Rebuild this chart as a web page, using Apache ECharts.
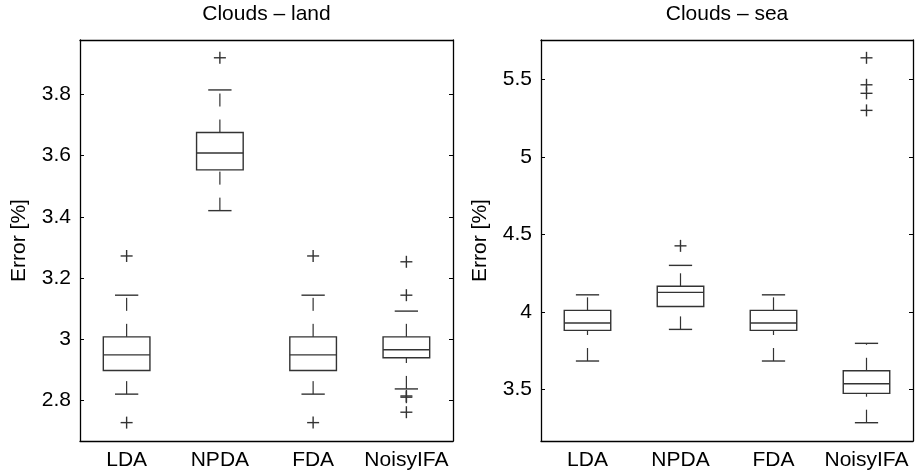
<!DOCTYPE html>
<html>
<head>
<meta charset="utf-8">
<script src="https://cdn.jsdelivr.net/npm/echarts@6/dist/echarts.min.js"></script>
<style>
  html, body { margin: 0; background: #fff; }
  #chart { width: 915px; height: 474px; }
</style>
</head>
<body>
<div id="chart"></div>
<script>
var methods = ['LDA', 'NPDA', 'FDA', 'NoisyIFA'];

// each box: [lower whisker, q1, median, q3, upper whisker]
var landBoxes = [
  [2.821, 2.898, 2.949, 3.008, 3.144],
  [3.420, 3.553, 3.608, 3.675, 3.814],
  [2.821, 2.898, 2.949, 3.008, 3.144],
  [2.838, 2.940, 2.966, 3.008, 3.092]
];
// outliers: [method index, value]
var landOutliers = [
  [0, 3.272], [0, 2.728],
  [1, 3.919],
  [2, 3.272], [2, 2.728],
  [3, 3.253], [3, 3.144], [3, 2.815], [3, 2.811], [3, 2.762]
];
var seaBoxes = [
  [3.683, 3.881, 3.928, 4.010, 4.110],
  [3.887, 4.035, 4.126, 4.165, 4.300],
  [3.683, 3.881, 3.928, 4.010, 4.110],
  [3.285, 3.474, 3.536, 3.620, 3.797]
];
var seaOutliers = [
  [1, 4.426],
  [3, 5.639], [3, 5.465], [3, 5.410], [3, 5.300]
];
var landTicks = [2.8, 3.0, 3.2, 3.4, 3.6, 3.8];
var seaTicks = [3.5, 4, 4.5, 5, 5.5];
var landRange = [2.668, 3.977];
var seaRange = [3.167, 5.754];

var FONT = '"Liberation Sans", Arial, sans-serif';
var FS = 21;
var INK = '#333';

function renderBox(params, api) {
  var i = api.value(0);
  var lo = api.coord([i, api.value(1)]);
  var q1 = api.coord([i, api.value(2)]);
  var md = api.coord([i, api.value(3)]);
  var q3 = api.coord([i, api.value(4)]);
  var hi = api.coord([i, api.value(5)]);
  var band = api.size([1, 0])[0];
  var bw = band * 0.25, cw = band * 0.125;
  var cx = lo[0];
  var dash = { stroke: INK, lineWidth: 1.2, lineDash: [13, 13], fill: null };
  var solid = { stroke: INK, lineWidth: 1.4, fill: null };
  return {
    type: 'group',
    children: [
      // whiskers drawn bottom -> top like matlab
      { type: 'line', shape: { x1: cx, y1: q3[1], x2: cx, y2: hi[1] }, style: dash },
      { type: 'line', shape: { x1: cx, y1: lo[1], x2: cx, y2: q1[1] }, style: dash },
      { type: 'line', shape: { x1: cx - cw, y1: hi[1], x2: cx + cw, y2: hi[1] }, style: solid },
      { type: 'line', shape: { x1: cx - cw, y1: lo[1], x2: cx + cw, y2: lo[1] }, style: solid },
      { type: 'rect', shape: { x: cx - bw, y: q3[1], width: 2 * bw, height: q1[1] - q3[1] }, style: solid },
      { type: 'line', shape: { x1: cx - bw, y1: md[1], x2: cx + bw, y2: md[1] }, style: solid }
    ]
  };
}

function renderPlus(params, api) {
  var p = api.coord([api.value(0), api.value(1)]);
  var s = 6;
  var st = { stroke: INK, lineWidth: 1.4, fill: null };
  return {
    type: 'group',
    children: [
      { type: 'line', shape: { x1: p[0] - s, y1: p[1], x2: p[0] + s, y2: p[1] }, style: st },
      { type: 'line', shape: { x1: p[0], y1: p[1] - s, x2: p[0], y2: p[1] + s }, style: st }
    ]
  };
}

function catAxis(grid, pos) {
  return {
    type: 'category', gridIndex: grid, position: pos, data: methods,
    boundaryGap: true,
    axisLine: { lineStyle: { color: '#000', width: 1.3 } },
    axisTick: { inside: true, length: 4, alignWithLabel: true, interval: 0, lineStyle: { color: '#000' } },
    axisLabel: pos === 'bottom'
      ? { show: true, interval: 0, margin: 9, color: '#000', fontSize: FS, fontFamily: FONT }
      : { show: false }
  };
}

function valAxis(grid, pos, range, ticks) {
  return {
    type: 'value', gridIndex: grid, position: pos,
    min: range[0], max: range[1],
    name: pos === 'left' ? 'Error [%]' : '',
    nameLocation: 'middle', nameGap: 50, nameRotate: 90,
    nameTextStyle: { color: '#000', fontSize: FS, fontFamily: FONT },
    splitLine: { show: false },
    axisLine: { show: true, lineStyle: { color: '#000', width: 1.3 } },
    axisTick: { show: true, inside: true, length: 4, customValues: ticks, lineStyle: { color: '#000' } },
    axisLabel: pos === 'left'
      ? { show: true, margin: 9, color: '#000', fontSize: FS, fontFamily: FONT, customValues: ticks }
      : { show: false }
  };
}

var chart = echarts.init(document.getElementById('chart'));
chart.setOption({
  animation: false,
  backgroundColor: '#fff',
  graphic: [
    { type: 'text', x: 266.5, y: 4, style: { text: 'Clouds – land', font: FS + 'px ' + FONT, fill: '#000', textAlign: 'center', textVerticalAlign: 'top' } },
    { type: 'text', x: 727, y: 4, style: { text: 'Clouds – sea', font: FS + 'px ' + FONT, fill: '#000', textAlign: 'center', textVerticalAlign: 'top' } }
  ],
  grid: [
    { left: 80, top: 40, width: 373, height: 401 },
    { left: 541, top: 40, width: 372, height: 401 }
  ],
  xAxis: [catAxis(0, 'bottom'), catAxis(0, 'top'), catAxis(1, 'bottom'), catAxis(1, 'top')],
  yAxis: [
    valAxis(0, 'left', landRange, landTicks), valAxis(0, 'right', landRange, landTicks),
    valAxis(1, 'left', seaRange, seaTicks), valAxis(1, 'right', seaRange, seaTicks)
  ],
  series: [
    { type: 'custom', xAxisIndex: 0, yAxisIndex: 0, renderItem: renderBox,
      data: landBoxes.map(function (b, i) { return [i].concat(b); }), encode: { x: 0, y: [1, 2, 3, 4, 5] } },
    { type: 'custom', xAxisIndex: 0, yAxisIndex: 0, renderItem: renderPlus,
      data: landOutliers, encode: { x: 0, y: 1 } },
    { type: 'custom', xAxisIndex: 2, yAxisIndex: 2, renderItem: renderBox,
      data: seaBoxes.map(function (b, i) { return [i].concat(b); }), encode: { x: 0, y: [1, 2, 3, 4, 5] } },
    { type: 'custom', xAxisIndex: 2, yAxisIndex: 2, renderItem: renderPlus,
      data: seaOutliers, encode: { x: 0, y: 1 } }
  ]
});
</script>
</body>
</html>
